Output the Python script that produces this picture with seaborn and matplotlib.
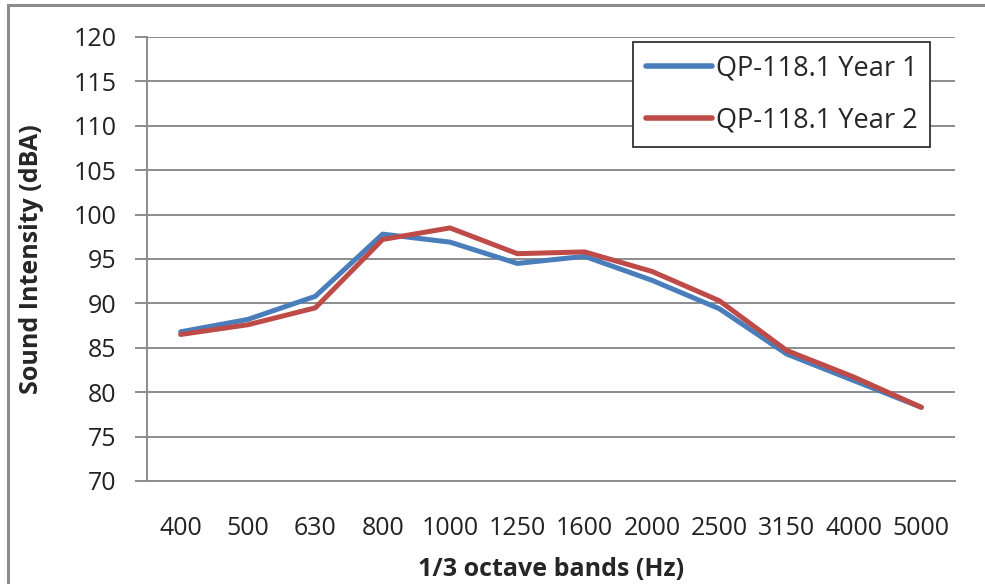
import numpy as np
import pandas as pd
import matplotlib
matplotlib.use("Agg")
import matplotlib.pyplot as plt
from matplotlib.patches import Rectangle
import seaborn as sns

bands = ['400', '500', '630', '800', '1000', '1250', '1600', '2000', '2500', '3150', '4000', '5000']
year1 = [86.8, 88.2, 90.8, 97.8, 96.9, 94.5, 95.3, 92.6, 89.4, 84.3, 81.3, 78.3]
year2 = [86.5, 87.6, 89.5, 97.2, 98.5, 95.6, 95.8, 93.6, 90.3, 84.7, 81.7, 78.3]
series = ['QP-118.1 Year 1', 'QP-118.1 Year 2']
colors = ['#4A7EBB', '#BE4B48']

df = pd.DataFrame({
    'band': bands * 2,
    'value': year1 + year2,
    'series': [series[0]] * len(bands) + [series[1]] * len(bands),
})

sns.set_style('white')
plt.rcParams['font.family'] = ['Open Sans', 'DejaVu Sans']

fig = plt.figure(figsize=(9.85, 5.84), dpi=100)
ax = fig.add_axes([147 / 985, 1 - 481 / 584, 808 / 985, 444 / 584])

sns.lineplot(data=df, x='band', y='value', hue='series', palette=colors,
             sort=False, linewidth=3.6, ax=ax, legend=True)

ax.set_ylim(70, 120)
ax.set_yticks(np.arange(70, 121, 5))
ax.set_xlim(-0.5, len(bands) - 0.5)
ax.set_xticks(range(len(bands)))
ax.set_xticklabels(bands)
ax.set_xticks(np.arange(-0.5, len(bands), 1), minor=True)

grid_c = '#8C8C8C'
ax.grid(axis='y', color=grid_c, linewidth=1.4)
ax.set_axisbelow(True)
for s in ['top', 'right']:
    ax.spines[s].set_visible(False)
for s in ['left', 'bottom']:
    ax.spines[s].set_color(grid_c)
    ax.spines[s].set_linewidth(1.4)

ax.tick_params(axis='x', which='major', length=0, pad=25, labelsize=18, colors='#222222')
ax.tick_params(axis='x', which='minor', length=8, width=1.4, color=grid_c, direction='out')
ax.tick_params(axis='y', which='major', length=9, width=1.4, color=grid_c, direction='out',
               pad=13, labelsize=18, labelcolor='#222222', left=True)

ax.set_xlabel('1/3 octave bands (Hz)', fontsize=18, fontweight='bold')
ax.set_ylabel('Sound Intensity (dBA)', fontsize=18, fontweight='bold')
ax.xaxis.set_label_coords(0.5, -0.172)
ax.yaxis.set_label_coords(-0.128, 0.5)

leg = ax.legend(loc='upper right', bbox_to_anchor=(0.969, 0.989), fontsize=19.5,
                frameon=True, fancybox=False, edgecolor='#333333', framealpha=1,
                handlelength=2.45, handletextpad=0.15, labelspacing=0.9,
                borderpad=0.45, borderaxespad=0, title=None)
leg.get_frame().set_linewidth(1.3)
for line in leg.get_lines():
    line.set_linewidth(4)

fig.patches.append(Rectangle((8 / 985, -0.05), 1.1, 1 - 5 / 584 + 0.05,
                             transform=fig.transFigure, fill=False,
                             edgecolor='#8C8C8C', linewidth=2.2))

fig.savefig('out.png', dpi=100)
